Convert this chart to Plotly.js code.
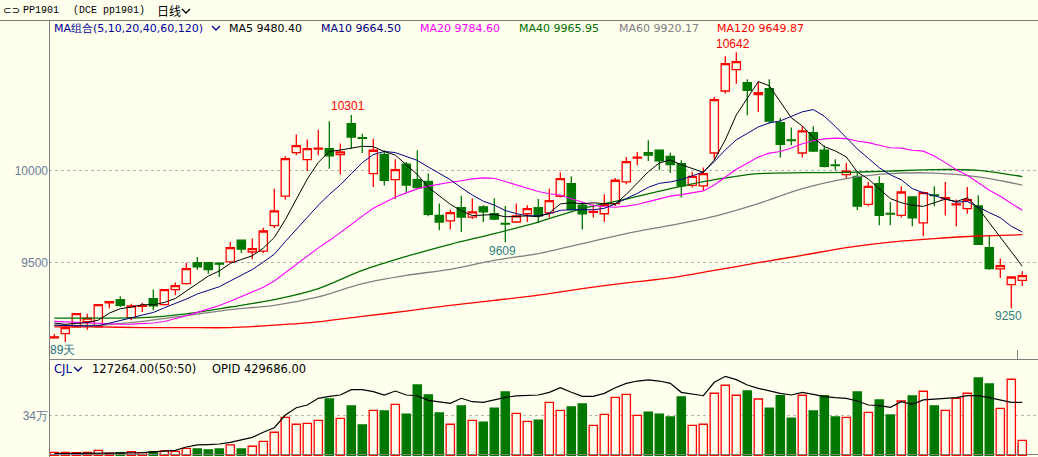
<!DOCTYPE html>
<html><head><meta charset="utf-8">
<script src="https://cdn.plot.ly/plotly-3.0.1.min.js"></script>
<style>html,body{margin:0;padding:0;background:#FFFFEE;} #chart{width:1038px;height:457px;}</style>
</head><body><div id="chart"></div>
<script>
// ---- daily OHLC of PP1901 ----
const opens = [9090,9112,9149,9178,9149,9280,9297,9199,9260,9303, 9270,9352,9384,9498,9498,9495,9502,9620,9556,9561, 9699,9860,10096,10058,10115,10118,10085,10254,10178,9982, 10087,9949,10033,9949,9940,9755,9725,9797,9746,9801, 9764,9712,9719,9764,9797,9769,9859,9928,9810,9772, 9764,9819,9937,10066,10096,10109,10076,10036,9918,9915, 10094,10431,10547,10477,10411,10444,10259,10165,10094,10205, 10109,10029,9977,9967,9815,9928,9766,9755,9855,9714, 9866,9846,9812,9792,9806,9580,9464,9379,9402];
const highs = [9110,9150,9225,9221,9272,9290,9315,9275,9280,9352, 9355,9390,9498,9529,9500,9500,9610,9622,9629,9688, 9900,10076,10194,10168,10221,10266,10145,10301,10199,10172, 10109,10060,10045,10109,9982,9819,9786,9862,9848,9810, 9848,9806,9819,9810,9844,9900,9989,9967,9828,9815, 9870,9958,10072,10100,10163,10112,10096,10054,9991,10015, 10398,10620,10642,10495,10480,10495,10286,10232,10239,10239, 10136,10060,10040,9985,9937,9967,9828,9913,9858,9885, 9913,9937,9841,9909,9864,9647,9520,9422,9451];
const lows = [9085,9067,9145,9134,9145,9250,9257,9185,9230,9239, 9265,9321,9380,9460,9438,9420,9498,9551,9516,9551, 9686,9841,10082,9996,10082,10009,9977,10118,10094,9909, 9918,9844,9877,9900,9750,9674,9679,9665,9735,9719, 9728,9609,9714,9719,9714,9743,9852,9780,9678,9743, 9719,9806,9924,10027,10051,10000,9985,9852,9906,9891, 10058,10417,10471,10299,10317,10254,10069,10136,10069,10100, 10015,10000,9955,9783,9804,9701,9701,9743,9696,9641, 9804,9755,9696,9764,9595,9460,9415,9250,9371];
const closes = [9095,9145,9221,9197,9270,9286,9266,9263,9265,9263, 9352,9373,9466,9475,9460,9490,9580,9572,9574,9670, 9779,10063,10134,10118,10120,10078,10100,10181,10174,10109, 9946,10004,9920,9906,9761,9719,9770,9746,9774,9774, 9735,9708,9752,9792,9752,9835,9955,9786,9764,9776, 9813,9946,10047,10072,10082,10051,10031,9915,9967,9982, 10384,10580,10591,10435,10422,10268,10141,10161,10214,10105, 10022,10025,9996,9806,9913,9755,9762,9882,9741,9879, 9862,9852,9818,9841,9598,9466,9482,9420,9428];
// ---- volume (CJL) and open interest (OPID) ----
const volumes = [25000,25000,22000,25000,42000,17000,22000,31000,22000,31000, 37000,34000,59000,54000,45000,54000,88000,54000,77000,119000, 196000,323000,264000,272000,298000,479000,315000,420000,258000,383000, 377000,434000,351000,598000,513000,360000,264000,420000,298000,283000, 402000,539000,357000,289000,300000,451000,383000,411000,437000,255000, 349000,493000,519000,340000,368000,351000,326000,496000,255000,264000, 528000,596000,511000,547000,479000,402000,507000,317000,511000,377000, 507000,326000,323000,539000,366000,471000,343000,462000,505000,545000, 420000,383000,485000,528000,658000,607000,400000,647000,127264];
const openInterest = [14000,14000,14000,14000,17000,14000,17000,20000,22000,28000, 37000,42000,71000,88000,91000,96000,110000,130000,153000,196000, 235000,343000,405000,428000,485000,502000,513000,559000,559000,542000, 513000,547000,513000,507000,468000,454000,442000,485000,456000,451000, 471000,493000,505000,507000,513000,536000,575000,536000,502000,502000, 527000,575000,612000,632000,641000,632000,612000,536000,519000,507000, 621000,672000,644000,598000,570000,547000,527000,513000,536000,519000, 499000,490000,485000,462000,428000,422000,408000,456000,434000,471000, 476000,479000,490000,507000,507000,490000,471000,451000,451000];
// ---- moving averages: early values (before a full window is visible) ----
const ma5Head = [9170,9163,9168,9172];
const ma10Head = [9158,9156,9155,9154,9155,9168,9183,9198,9213];
const ma20Head = [9179,9176,9172,9168,9165,9163,9163,9164,9166,9170,9178,9192,9210,9228,9246,9265,9288,9312,9337];
// long averages every 4 bars
const longMaBars = [0,4,8,12,16,20,24,28,32,36,40,44,48,52,56,60,64,68,72,76,80,84,88];
const ma40Values = [9197,9197,9199,9220,9257,9297,9357,9456,9532,9598,9656,9719,9792,9844,9900,9949,9982,9987,9989,9996,10004,10000,9966];
const ma60Values = [9158,9158,9179,9210,9243,9266,9312,9384,9429,9462,9511,9547,9601,9656,9701,9750,9819,9900,9955,9982,9985,9964,9920];
const ma120Values = [9149,9149,9145,9145,9145,9158,9176,9206,9235,9266,9293,9321,9357,9388,9415,9456,9498,9538,9580,9610,9629,9643,9650];
// ---- texts ----
const maLegendLabels = ['MA5 9480.40','MA10 9664.50','MA20 9784.60','MA40 9965.95','MA60 9920.17','MA120 9649.87'];
const priceTicks = [9500,10000];
const priceTickText = ['9500','10000'];
const volTicks = [340000];
const volTickText = ['34万'];

const BG = '#FFFFEE', RED = '#FF0000', GREEN = '#007800';
const W = 1038, H = 457, L = 49, T = 20, PW = W - L, PH = H - T;
const pxX = x => (x - L) / PW;
const pxY = y => (H - y) / PH;

const barIdx = closes.map((_, i) => i);
function movingAverage(n, head) {
  return closes.map((c, i) => i < head.length ? head[i]
    : closes.slice(i - n + 1, i + 1).reduce((a, b) => a + b, 0) / n);
}
const ma5 = movingAverage(5, ma5Head);
const ma10 = movingAverage(10, ma10Head);
const ma20 = movingAverage(20, ma20Head);

const up = closes.map((c, i) => c >= opens[i]);

const traces = [
  {type:'scatter', mode:'lines', x:longMaBars, y:ma120Values, line:{color:'#FF0000', width:1.3, shape:'spline', smoothing:0.8}, hoverinfo:'skip'},
  {type:'scatter', mode:'lines', x:longMaBars, y:ma60Values, line:{color:'#808080', width:1.3, shape:'spline', smoothing:0.8}, hoverinfo:'skip'},
  {type:'scatter', mode:'lines', x:longMaBars, y:ma40Values, line:{color:'#006E00', width:1.3, shape:'spline', smoothing:0.8}, hoverinfo:'skip'},
  {type:'scatter', mode:'lines', x:barIdx, y:ma20, line:{color:'#FF00FF', width:1.1}, hoverinfo:'skip'},
  {type:'scatter', mode:'lines', x:barIdx, y:ma10, line:{color:'#000080', width:1}, hoverinfo:'skip'},
  {type:'scatter', mode:'lines', x:barIdx, y:ma5, line:{color:'#000000', width:1}, hoverinfo:'skip'},
  {type:'candlestick', x:barIdx, open:opens, high:highs, low:lows, close:closes,
   increasing:{line:{color:RED, width:1.3}, fillcolor:BG},
   decreasing:{line:{color:GREEN, width:1.3}, fillcolor:GREEN},
   whiskerwidth:0, hoverinfo:'skip'},
  {type:'bar', x:barIdx, y:volumes, yaxis:'y2', width:0.75,
   marker:{color:up.map(u => u ? BG : GREEN), line:{color:up.map(u => u ? RED : GREEN), width:1.3}}, hoverinfo:'skip'},
  {type:'scatter', mode:'lines', x:barIdx, y:openInterest, yaxis:'y2', line:{color:'#000000', width:1.2}, hoverinfo:'skip'}
];

function txt(x, y, text, color, size, family, anchor) {
  return {xref:'paper', yref:'paper', x:pxX(x), y:pxY(y), text:text, showarrow:false,
    xanchor:anchor || 'left', yanchor:'middle', borderpad:0, borderwidth:0,
    font:{family:family || 'DejaVu Sans', size:size || 11, color:color || '#000'}};
}
function mark(bar, price, text, color, yshift) {
  return {xref:'x', yref:'y', x:bar, y:price, text:text, showarrow:false, xanchor:'center', yanchor:'middle',
    xshift:-3, yshift:yshift, borderpad:0, font:{family:'Liberation Sans', size:12, color:color}};
}
const maColors = ['#000000','#000080','#FF00FF','#007000','#808080','#FF0000'];
const maX = [229, 321, 420, 519, 619, 717];

const annotations = [
  txt(3, 11, '⊂⊃', '#000', 10, 'DejaVu Sans'),
  txt(23, 11, 'PP1901', '#000', 10, 'Liberation Mono'),
  txt(73, 11, '(DCE pp1901)', '#000', 10, 'Liberation Mono'),
  txt(157, 11, '日线', '#000', 12, 'Noto Sans CJK SC'),
  txt(54, 28, 'MA组合(5,10,20,40,60,120)', '#000099', 11, 'DejaVu Sans'),
  txt(54, 369, 'CJL', '#000099', 11.5, 'DejaVu Sans'),
  txt(92, 369, '127264.00(50:50)', '#000', 11.5, 'DejaVu Sans'),
  txt(212, 369, 'OPID 429686.00', '#000', 11.5, 'DejaVu Sans'),
  txt(50, 350, '89天', '#1F6F7F', 12, 'Liberation Sans'),
  mark(27, 10301, '10301', RED, 9),
  mark(62, 10642, '10642', RED, 8),
  mark(41, 9609, '9609', '#338080', -9),
  mark(87, 9250, '9250', '#338080', -8)
];
maLegendLabels.forEach((t, k) => annotations.push(txt(maX[k], 28, t, maColors[k], 11, 'DejaVu Sans')));

function hline(y, x0, x1) {
  return {type:'line', xref:'paper', yref:'paper', x0:pxX(x0), x1:pxX(x1), y0:pxY(y), y1:pxY(y), line:{color:'#808080', width:1}, layer:'above'};
}
function vline(x, y0, y1) {
  return {type:'line', xref:'paper', yref:'paper', x0:pxX(x), x1:pxX(x), y0:pxY(y0), y1:pxY(y1), line:{color:'#808080', width:1}, layer:'above'};
}
function chevron(x0, y0, color) {
  return {type:'path', xref:'paper', yref:'paper', layer:'above',
    path:'M ' + pxX(x0) + ' ' + pxY(y0) + ' L ' + pxX(x0 + 4) + ' ' + pxY(y0 + 4) + ' L ' + pxX(x0 + 8) + ' ' + pxY(y0),
    line:{color:color, width:1.3}};
}
const shapes = [
  hline(20.5, 0, 1038),
  vline(49.5, 20, 457),
  hline(359.5, 49, 1038),
  hline(454.5, 49, 1038),
  vline(1017.5, 350, 359),
  vline(1017.5, 445, 454),
  chevron(212, 26, '#000099'),
  chevron(182, 9, '#000'),
  chevron(74, 367, '#000099')
];

const layout = {
  width: W, height: H,
  margin: {l: L, r: 0, t: T, b: 0, pad: 0},
  paper_bgcolor: BG, plot_bgcolor: BG,
  showlegend: false, hovermode: false,
  boxmode: 'overlay', boxgap: 0.25, boxgroupgap: 0,
  xaxis: {range: [(L - 54.3) / 11, (W - 54.3) / 11], visible: false, rangeslider: {visible: false}, anchor: 'y2', fixedrange: true},
  yaxis: {domain: [pxY(359.3), 1], range: [8972.8, 10816.9], tickvals: priceTicks, ticktext: priceTickText,
    showgrid: true, gridcolor: '#B4B4B4', griddash: 'dot', gridwidth: 1, zeroline: false, showline: false, ticks: '',
    tickfont: {family: 'Liberation Sans', size: 12, color: '#6A7B96'}, fixedrange: true},
  yaxis2: {domain: [0, pxY(359.3)], range: [-14465, 816864], tickvals: volTicks, ticktext: volTickText,
    showgrid: true, gridcolor: '#B4B4B4', griddash: 'dot', gridwidth: 1, zeroline: false, showline: false, ticks: '',
    tickfont: {family: 'Liberation Sans', size: 12, color: '#6A7B96'}, fixedrange: true},
  annotations: annotations,
  shapes: shapes
};
Plotly.newPlot('chart', traces, layout, {staticPlot: true, displayModeBar: false});
</script></body></html>
